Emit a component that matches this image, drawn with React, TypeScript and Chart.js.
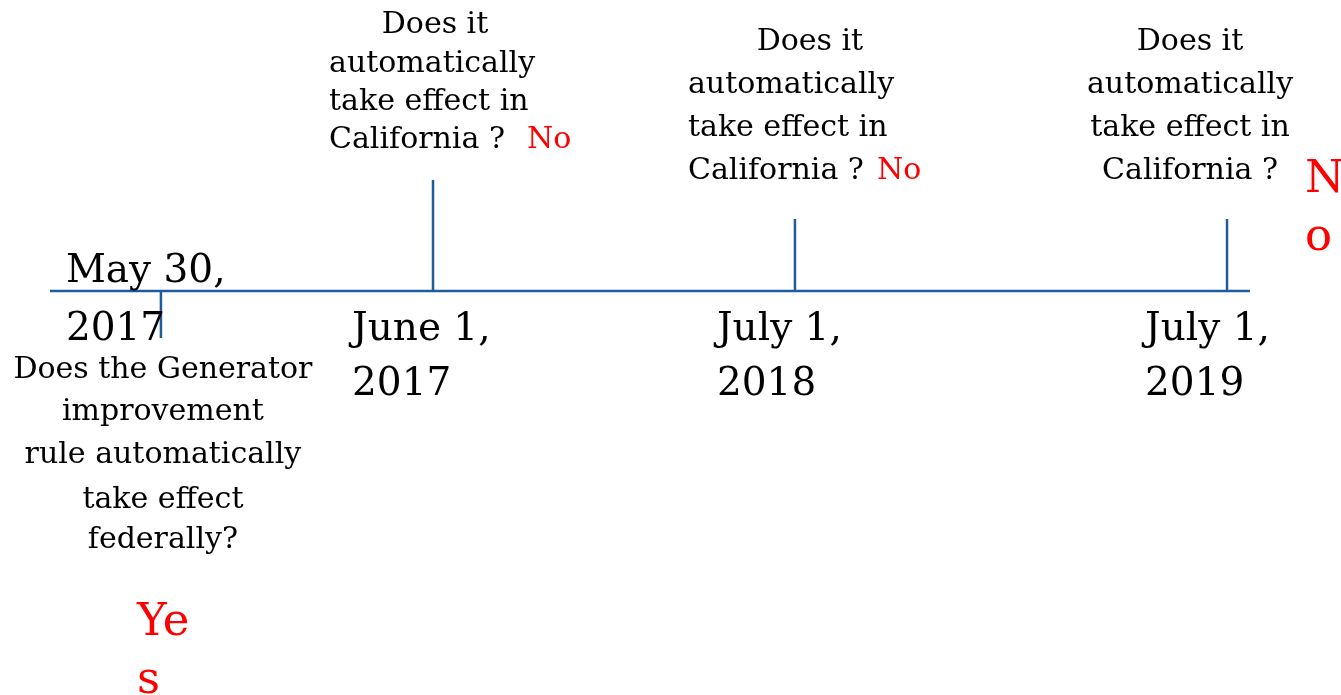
import React, { useEffect, useRef } from "react";
import { Chart, registerables } from "chart.js";

Chart.register(...registerables);

// ---- Data ----
const eventDates: string[][] = [
  ["May 30,", "2017"],
  ["June 1,", "2017"],
  ["July 1,", "2018"],
  ["July 1,", "2019"],
];
// position of each event along the timeline (0–100 scale)
const eventPositions: number[] = [12.0, 32.29, 59.28, 91.5];
// length of each event's tick (positive = up, negative = down)
const tickLengths: number[] = [-47, 111, 72, 72];
// extent of the timeline axis
const axisStart = 3.73;
const axisEnd = 93.21;

const questions: string[][] = [
  ["Does the Generator", "improvement", "rule automatically", "take effect", "federally?"],
  ["Does it", "automatically", "take effect in", "California ?"],
  ["Does it", "automatically", "take effect in", "California ?"],
  ["Does it", "automatically", "take effect in", "California ?"],
];
// answers, split into the lines as they wrap on the slide
const answers: string[][] = [["Ye", "s"], ["No"], ["No"], ["N", "o"]];

const LINE_COLOR = "#1f5c9e";
const FONT = '"DejaVu Serif", serif';

type LineLayout = { align: CanvasTextAlign; dx: number; dy: number };
// text layout (pixel offsets from each event's anchor on the axis)
const dateLayout = [
  { dx: -95, dy: [-9, 49] },
  { dx: -81, dy: [49, 104] },
  { dx: -78, dy: [49, 104] },
  { dx: -82, dy: [49, 104] },
];
const questionLayout: LineLayout[][] = [
  [87, 129, 172, 217, 257].map((dy) => ({ align: "center" as CanvasTextAlign, dx: 2, dy })),
  [
    { align: "center", dx: 2, dy: -258 },
    { align: "left", dx: -104, dy: -219 },
    { align: "left", dx: -104, dy: -181 },
    { align: "left", dx: -104, dy: -143 },
  ],
  [
    { align: "center", dx: 15, dy: -241 },
    { align: "left", dx: -107, dy: -198 },
    { align: "left", dx: -107, dy: -155 },
    { align: "left", dx: -107, dy: -112 },
  ],
  [-241, -198, -155, -112].map((dy) => ({ align: "center" as CanvasTextAlign, dx: -37, dy })),
];
const answerLayout = [
  { size: 45, dx: -24, dy: [344, 402] },
  { size: 30, dx: 94, dy: [-143] },
  { size: 30, dx: 82, dy: [-112] },
  { size: 45, dx: 78, dy: [-99, -41] },
];

const textPlugin = {
  id: "timelineText",
  afterDatasetsDraw(chart: any) {
    const ctx: CanvasRenderingContext2D = chart.ctx;
    const xs = chart.scales.x;
    const ys = chart.scales.y;
    const axisY = ys.getPixelForValue(0);
    ctx.save();
    ctx.textBaseline = "alphabetic";
    eventPositions.forEach((pos, i) => {
      const ax = xs.getPixelForValue(pos);
      // date labels
      ctx.fillStyle = "#000000";
      ctx.font = `39px ${FONT}`;
      ctx.textAlign = "left";
      eventDates[i].forEach((t, k) => {
        ctx.fillText(t, ax + dateLayout[i].dx, axisY + dateLayout[i].dy[k]);
      });
      // questions
      ctx.font = `30px ${FONT}`;
      questions[i].forEach((t, k) => {
        const l = questionLayout[i][k];
        ctx.textAlign = l.align;
        ctx.fillText(t, ax + l.dx, axisY + l.dy);
      });
      // answers
      ctx.fillStyle = "#ff0000";
      ctx.font = `${answerLayout[i].size}px ${FONT}`;
      ctx.textAlign = "left";
      answers[i].forEach((t, k) => {
        ctx.fillText(t, ax + answerLayout[i].dx, axisY + answerLayout[i].dy[k]);
      });
    });
    ctx.restore();
  },
};

export default function App() {
  const canvasRef = useRef<HTMLCanvasElement | null>(null);

  useEffect(() => {
    if (!canvasRef.current) return;
    const datasets: any[] = [
      {
        label: "axis",
        data: [
          { x: axisStart, y: 0 },
          { x: axisEnd, y: 0 },
        ],
        showLine: true,
        borderColor: LINE_COLOR,
        borderWidth: 2.5,
        pointRadius: 0,
      },
      ...eventPositions.map((pos, i) => ({
        label: eventDates[i].join(" "),
        data: [
          { x: pos, y: 0 },
          { x: pos, y: tickLengths[i] },
        ],
        showLine: true,
        borderColor: LINE_COLOR,
        borderWidth: 2.5,
        pointRadius: 0,
      })),
    ];
    const chart = new Chart(canvasRef.current, {
      type: "scatter",
      data: { datasets },
      options: {
        animation: false,
        responsive: false,
        devicePixelRatio: 1,
        layout: { padding: 0 },
        plugins: { legend: { display: false }, tooltip: { enabled: false } },
        scales: {
          x: { type: "linear", min: 0, max: 100, display: false },
          y: { type: "linear", min: -404, max: 291, display: false },
        },
      },
      plugins: [textPlugin],
    });
    return () => chart.destroy();
  }, []);

  return (
    <div style={{ position: "absolute", left: 0, top: 0, width: 1341, height: 695, background: "#ffffff" }}>
      <canvas ref={canvasRef} width={1341} height={695} style={{ display: "block" }} />
    </div>
  );
}
